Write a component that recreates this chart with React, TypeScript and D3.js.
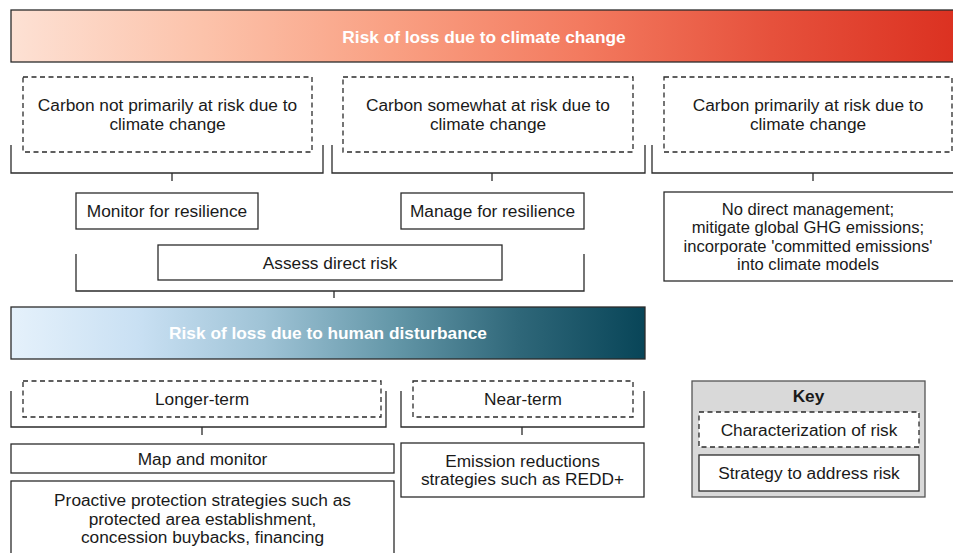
import React, { useEffect, useRef } from 'react';
import * as d3 from 'd3';

// Labels of the diagram
const headerClimate = 'Risk of loss due to climate change';
const headerHuman = 'Risk of loss due to human disturbance';

const climateRisks = [
  ['Carbon not primarily at risk due to', 'climate change'],
  ['Carbon somewhat at risk due to', 'climate change'],
  ['Carbon primarily at risk due to', 'climate change'],
];

const climateStrategies = [
  ['Monitor for resilience'],
  ['Manage for resilience'],
  ['No direct management;', 'mitigate global GHG emissions;', "incorporate 'committed emissions'", 'into climate models'],
];

const sharedStrategy = ['Assess direct risk'];

const humanRisks = [['Longer-term'], ['Near-term']];

const humanStrategies = [
  ['Map and monitor'],
  ['Emission reductions', 'strategies such as REDD+'],
  ['Proactive protection strategies such as', 'protected area establishment,', 'concession buybacks, financing'],
];

const keyTitle = 'Key';
const keyItems = ['Characterization of risk', 'Strategy to address risk'];

// Gradient stops
const redStops = ['#fde1d4', '#fcc3ab', '#f9a083', '#f37a5f', '#e6513c', '#db3020'];
const blueStops = ['#e5f1fb', '#c9e0f3', '#9fc3d6', '#6598a9', '#2f6779', '#084558'];

const App = () => {
  const svgRef = useRef<SVGSVGElement>(null);

  useEffect(() => {
    const width = 953;
    const height = 553;
    const ink = '#2b2b2b';
    const font = 'Liberation Sans, Arial, Helvetica, sans-serif';

    const svg = d3.select(svgRef.current);
    svg.selectAll('*').remove();
    svg.attr('width', width).attr('height', height);

    const defs = svg.append('defs');
    const addGradient = (id: string, stops: string[]) => {
      const g = defs.append('linearGradient').attr('id', id)
        .attr('x1', '0%').attr('x2', '100%').attr('y1', '0%').attr('y2', '0%');
      const t = d3.scaleLinear().domain([0, stops.length - 1]).range([0, 100]);
      stops.forEach((c, i) => {
        g.append('stop').attr('offset', `${t(i)}%`).attr('stop-color', c);
      });
    };
    addGradient('redGrad', redStops);
    addGradient('blueGrad', blueStops);

    const box = (x0: number, y0: number, x1: number, y1: number, opts: { dashed?: boolean; fill?: string; stroke?: string } = {}) => {
      svg.append('rect')
        .attr('x', x0).attr('y', y0)
        .attr('width', x1 - x0).attr('height', y1 - y0)
        .attr('fill', opts.fill || 'white')
        .attr('stroke', opts.stroke || ink)
        .attr('stroke-width', 1.3)
        .attr('stroke-dasharray', opts.dashed ? '5,3.5' : null);
    };

    const label = (lines: string[], cx: number, cy: number, opts: { bold?: boolean; color?: string; lh?: number; size?: number } = {}) => {
      const lh = opts.lh || 18.5;
      const top = cy - ((lines.length - 1) * lh) / 2;
      lines.forEach((l, i) => {
        svg.append('text')
          .attr('x', cx).attr('y', top + i * lh)
          .attr('text-anchor', 'middle')
          .attr('dominant-baseline', 'central')
          .attr('font-family', font)
          .attr('font-size', opts.size || 17.3)
          .attr('font-weight', opts.bold ? 'bold' : 'normal')
          .attr('fill', opts.color || '#1a1a1a')
          .text(l);
      });
    };

    const line = d3.line();
    // bracket: two uprights joined at the bottom, with a short stem below
    const bracket = (x0: number, x1: number, yTop: number, yBot: number, stemX: number, stemLen: number) => {
      svg.append('path')
        .attr('d', line([[x0, yTop], [x0, yBot], [x1, yBot], [x1, yTop]]))
        .attr('fill', 'none').attr('stroke', ink).attr('stroke-width', 1.3);
      svg.append('path')
        .attr('d', line([[stemX, yBot], [stemX, yBot + stemLen]]))
        .attr('fill', 'none').attr('stroke', ink).attr('stroke-width', 1.3);
    };

    // Header: climate change
    box(11, 10, 962, 62, { fill: 'url(#redGrad)' });
    label([headerClimate], 484, 37, { bold: true, color: 'white' });

    // Climate risk characterizations
    const riskCols = [[23, 312, 11, 323, 172], [343, 633, 332, 645, 492], [664, 952, 652, 965, 813]];
    riskCols.forEach(([bx0, bx1, kx0, kx1, sx], i) => {
      bracket(kx0, kx1, 145, 173, sx, 8);
      box(bx0, 77, bx1, 152, { dashed: true });
      label(climateRisks[i], (bx0 + bx1) / 2, 114.5, { lh: 19 });
    });

    // Climate strategies
    box(76, 193, 258, 229);
    label(climateStrategies[0], 167, 211);
    box(401, 193, 584, 229);
    label(climateStrategies[1], 492.5, 211);
    box(664, 192, 958, 281);
    label(climateStrategies[2], 808, 237, { lh: 18.2, size: 16.6 });

    bracket(76, 584, 254, 291, 334, 7);
    box(158, 245, 502, 280);
    label(sharedStrategy, 330, 262.5);

    // Header: human disturbance
    box(11, 307, 645, 359, { fill: 'url(#blueGrad)' });
    label([headerHuman], 328, 333, { bold: true, color: 'white' });

    // Human risk characterizations
    bracket(11, 386, 391, 427, 202, 8);
    box(23, 381, 381, 417, { dashed: true });
    label(humanRisks[0], 202, 399);
    bracket(401, 644, 391, 427, 522, 8);
    box(413, 381, 633, 417, { dashed: true });
    label(humanRisks[1], 523, 399);

    // Human strategies
    box(11, 444, 394, 473);
    label(humanStrategies[0], 202.5, 458.5);
    box(401, 443, 644, 497);
    label(humanStrategies[1], 522.5, 470);
    box(11, 481, 394, 570);
    label(humanStrategies[2], 202.5, 518.5);

    // Key
    box(692, 381, 925, 497, { fill: '#d9d9d9', stroke: '#555' });
    label([keyTitle], 808.5, 396, { bold: true });
    box(699, 412, 919, 447, { dashed: true });
    label([keyItems[0]], 809, 429.5);
    box(699, 455, 919, 491);
    label([keyItems[1]], 809, 473);
  }, []);

  return (
    <svg ref={svgRef} width={953} height={553}
      style={{ position: 'absolute', left: 0, top: 0, display: 'block', background: 'white' }} />
  );
};

export default App;
